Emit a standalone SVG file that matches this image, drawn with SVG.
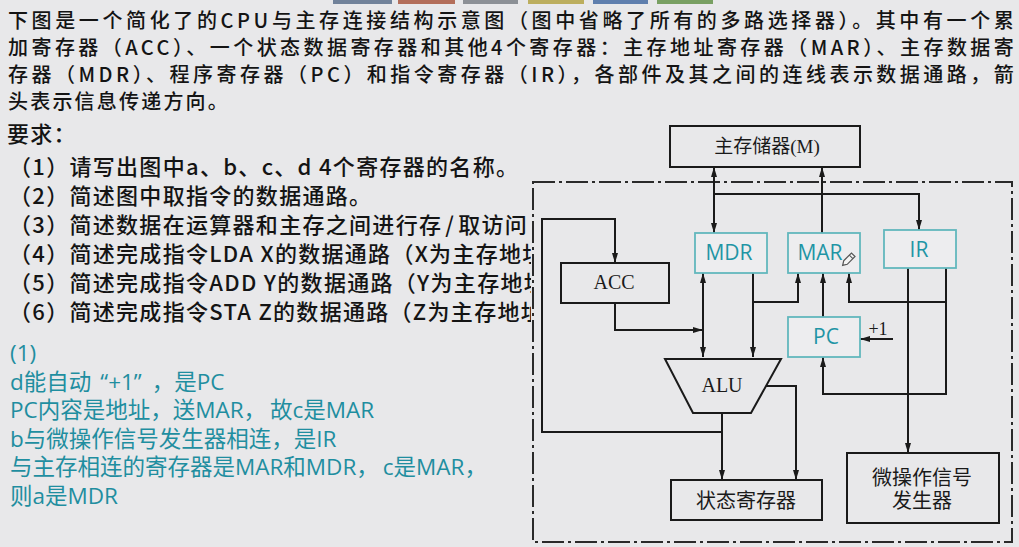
<svg xmlns="http://www.w3.org/2000/svg" width="1019" height="547" viewBox="0 0 1019 547">
<style>
.q{font-family:"Noto Sans CJK SC",sans-serif;font-size:22px;font-weight:500;fill:#141414;letter-spacing:1.3px}
.q1{font-size:20px;letter-spacing:2.2px}
.a{font-family:"Open Sans","Noto Sans CJK SC",sans-serif;font-size:22.5px;fill:#1f8ea0}
.s{font-family:"Liberation Serif","Noto Sans CJK SC",serif;fill:#1a1a1a;text-anchor:middle}
.t{font-family:"Open Sans","Noto Sans CJK SC",sans-serif;font-size:21px;fill:#1f95a5;text-anchor:middle}
.bx{fill:none;stroke:#1a1a1a;stroke-width:2}
.tb{fill:#ededef;stroke:#62b7bd;stroke-width:1.8}
.ln{fill:none;stroke:#1a1a1a;stroke-width:2;marker-end:url(#ah)}
</style>
<defs>
<marker id="ah" viewBox="0 0 10 6" refX="10" refY="3" markerWidth="10" markerHeight="6" markerUnits="userSpaceOnUse" orient="auto-start-reverse"><path d="M0,0 L10,3 L0,6 z" fill="#1a1a1a"/></marker>
</defs>
<rect width="1019" height="547" fill="#e8e8ea"/>
<g id="topbar">
<rect x="333" y="0" width="59" height="4" fill="#71829a"/>
<rect x="398" y="0" width="57" height="4" fill="#b36e5a"/>
<rect x="463" y="0" width="55" height="4" fill="#8c9096"/>
<rect x="528" y="0" width="56" height="4" fill="#bcae5e"/>
<rect x="593" y="0" width="55" height="4" fill="#5f7fae"/>
<rect x="657" y="0" width="56" height="4" fill="#79a063"/>
</g>
<g id="question">
<text class="q q1" x="8" y="28" textLength="1008" lengthAdjust="spacing">下图是一个简化了的CPU与主存连接结构示意图（图中省略了所有的多路选择器）。其中有一个累</text>
<text class="q q1" x="8" y="55" textLength="1008" lengthAdjust="spacing">加寄存器（ACC）、一个状态数据寄存器和其他4个寄存器：主存地址寄存器（MAR）、主存数据寄</text>
<text class="q q1" x="8" y="82" textLength="1008" lengthAdjust="spacing">存器（MDR）、程序寄存器（PC）和指令寄存器（IR），各部件及其之间的连线表示数据通路，箭</text>
<text class="q q1" x="8" y="109">头表示信息传递方向。</text>
<text class="q" x="7" y="142">要求：</text>
<text class="q" x="9" y="175">（1）请写出图中a、b、c、d 4个寄存器的名称。</text>
<text class="q" x="9" y="204">（2）简述图中取指令的数据通路。</text>
<text class="q" x="9" y="233">（3）简述数据在运算器和主存之间进行存<tspan dx="3">/</tspan><tspan dx="3">取访问</tspan></text>
<text class="q" x="9" y="262">（4）简述完成指令LDA X的数据通路（X为主存地址</text>
<text class="q" x="9" y="291">（5）简述完成指令ADD Y的数据通路（Y为主存地址</text>
<text class="q" x="9" y="320">（6）简述完成指令STA Z的数据通路（Z为主存地址</text>
</g>
<g id="answer">
<text class="a" x="10" y="361">(1)</text>
<text class="a" x="10" y="390">d能自动<tspan dx="9">“+1”</tspan><tspan dx="10">，是PC</tspan></text>
<text class="a" x="10" y="418">PC内容是地址，送MAR，<tspan dx="4">故c是MAR</tspan></text>
<text class="a" x="10" y="447">b与微操作信号发生器相连，是IR</text>
<text class="a" x="10" y="475">与主存相连的寄存器是MAR和MDR，<tspan dx="4">c是MAR，</tspan></text>
<text class="a" x="10" y="504">则a是MDR</text>
</g>
<rect x="531" y="150" width="488" height="397" fill="#e8e8ea"/>
<g id="cpu-boundary">
<rect x="533" y="182" width="479" height="360" fill="none" stroke="#2a2a2a" stroke-width="2" stroke-dasharray="22 4 3 4"/>
</g>
<g id="connectors">
<path class="ln" d="M714,233 V167" style="marker-start:url(#ah)"/>
<path class="ln" d="M822,233 V167"/>
<path class="ln" d="M714,194 H919 V230"/>
<path class="ln" d="M722,432 H542 V219 H615 V263"/>
<path class="ln" d="M722,413 V480"/>
<path class="ln" d="M766,386 H796 V480"/>
<path class="ln" d="M703,273 V357" style="marker-start:url(#ah)"/>
<path class="ln" d="M615,303 V330 H703"/>
<path class="ln" d="M753,273 V357"/>
<path class="ln" d="M753,302 H798 V273"/>
<path class="ln" d="M823,317 V273"/>
<path class="ln" d="M946,268 V302 H849 V273"/>
<path class="ln" d="M946,302 V394 H823 V357"/>
<path class="ln" d="M908,268 V453"/>
<path class="ln" d="M893,339 H860"/>
</g>
<g id="memory">
<rect class="bx" x="670" y="126" width="190" height="41"/>
<text class="s" x="767" y="153" font-size="19">主存储器(M)</text>
</g>
<g id="acc">
<rect class="bx" x="561" y="263" width="108" height="40"/>
<text class="s" x="614" y="289" font-size="20">ACC</text>
</g>
<g id="mdr">
<rect class="tb" x="695" y="233" width="72" height="40"/>
<text class="t" x="729" y="260">MDR</text>
</g>
<g id="mar">
<rect class="tb" x="788" y="233" width="72" height="40"/>
<text class="t" x="820" y="260">MAR</text>
</g>
<g id="ir">
<rect class="tb" x="884" y="230" width="72" height="38"/>
<text class="t" x="919" y="257">IR</text>
</g>
<g id="pc">
<rect class="tb" x="788" y="317" width="72" height="40"/>
<text class="t" x="826" y="344">PC</text>
<text class="s" x="878" y="335" font-size="18">+1</text>
</g>
<g id="alu">
<polygon class="bx" points="665,359 781,359 751,413 693,413"/>
<text class="s" x="722" y="392" font-size="20">ALU</text>
</g>
<g id="status">
<rect class="bx" x="671" y="480" width="151" height="40"/>
<text class="s" x="746" y="508" font-size="20">状态寄存器</text>
</g>
<g id="generator">
<rect class="bx" x="847" y="453" width="152" height="70"/>
<text class="s" x="922" y="485" font-size="20">微操作信号</text>
<text class="s" x="922" y="508" font-size="20">发生器</text>
</g>
<g id="pencil" transform="translate(849,259) rotate(-45)">
<path d="M-5,-2.5 H6 V2.5 H-5 L-9,0 Z" fill="#f4f4f4" stroke="#555" stroke-width="1.2"/>
<path d="M3,-2.5 V2.5" stroke="#555" stroke-width="1"/>
</g>
</svg>
